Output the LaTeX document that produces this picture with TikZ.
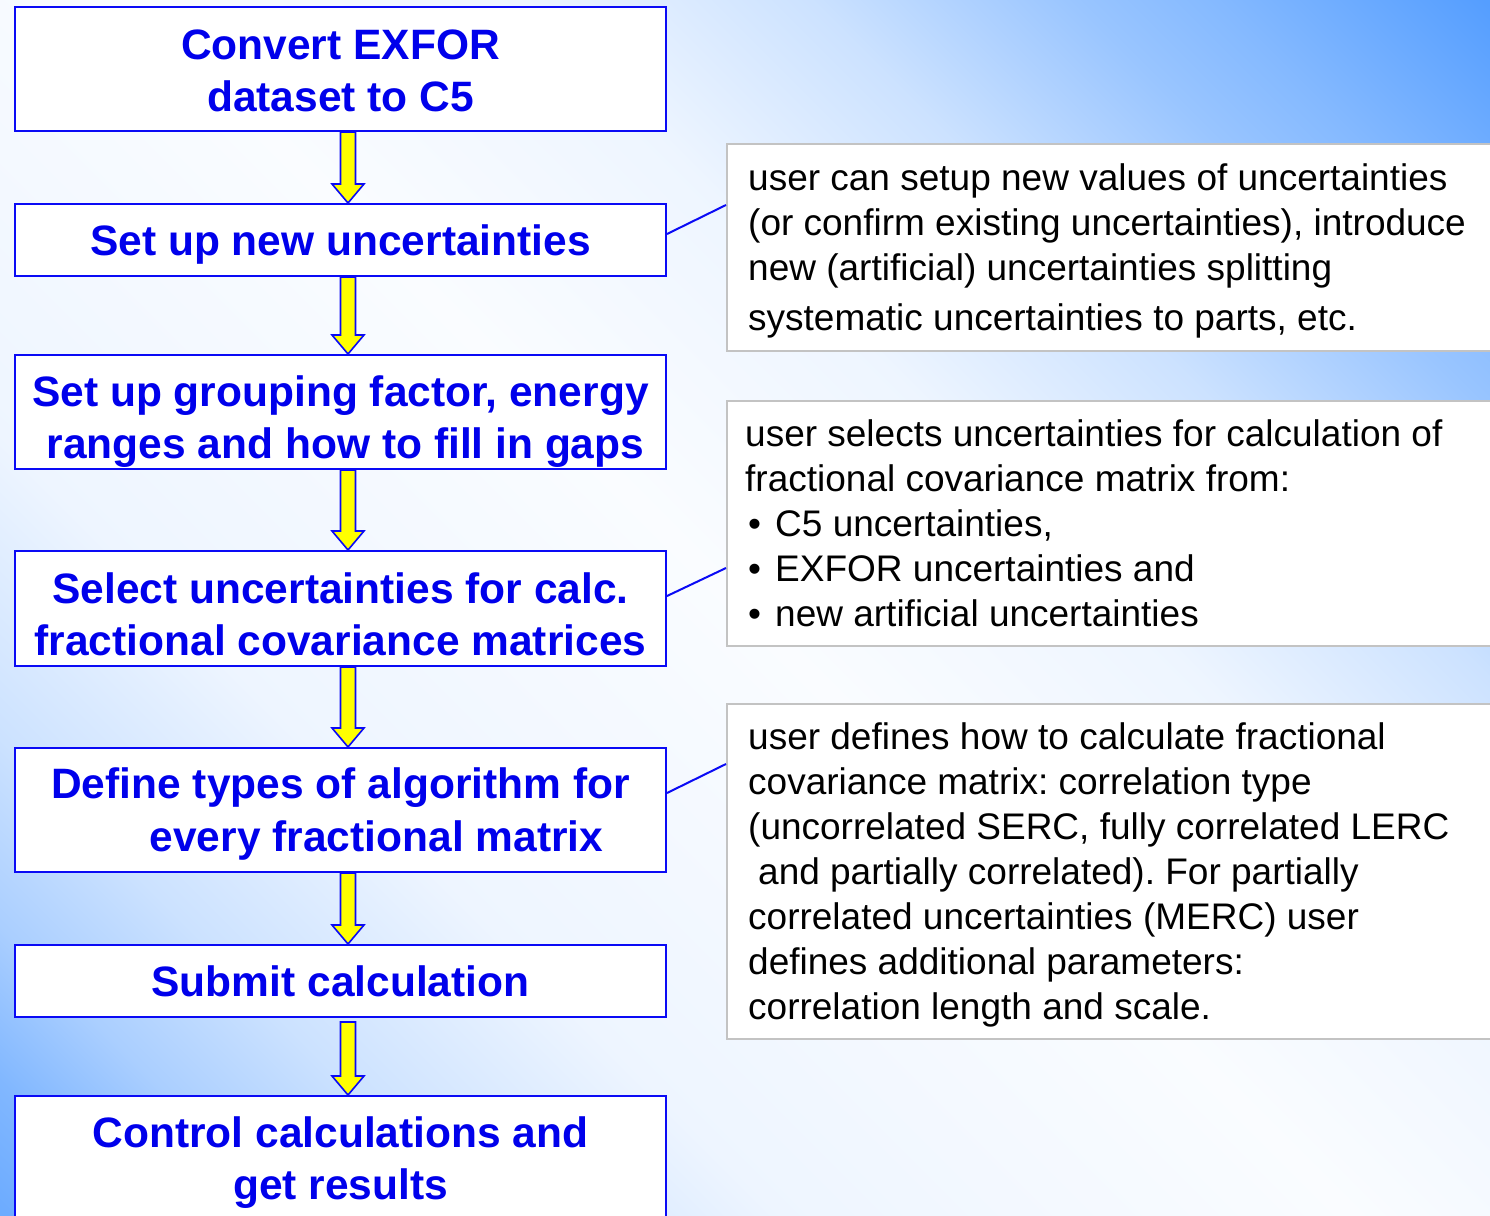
\documentclass[tikz,border=0pt]{standalone}
\usepackage{fontspec}
\setmainfont{Liberation Sans}
\usetikzlibrary{calc}
\frenchspacing
\definecolor{tblue}{RGB}{0,0,235}
\definecolor{lineblue}{RGB}{10,10,245}
\definecolor{bgblue}{RGB}{85,158,255}
\definecolor{boxgray}{RGB}{195,195,195}
\definecolor{ayellow}{RGB}{255,255,0}
\pgfdeclareverticalshading{bgshade}{100bp}{%
  color(0bp)=(bgblue!90!white);
  color(14.6bp)=(bgblue!86!white);
  color(18bp)=(bgblue!74!white);
  color(22bp)=(bgblue!50!white);
  color(27bp)=(bgblue!30!white);
  color(35bp)=(bgblue!10!white);
  color(50bp)=(bgblue!3!white);
  color(60bp)=(bgblue!10!white);
  color(67.7bp)=(bgblue!30!white);
  color(71.2bp)=(bgblue!45!white);
  color(74.7bp)=(bgblue!60!white);
  color(78.3bp)=(bgblue!72!white);
  color(85.4bp)=(bgblue);
  color(100bp)=(bgblue)}
\tikzset{
  lbox/.style={draw=lineblue, line width=2pt, fill=white, minimum width=651pt,
    inner sep=0pt},
  ltext/.style={inner sep=0pt, align=center, text=tblue,
    font=\fontsize{42.5}{52}\selectfont\bfseries},
  rbox/.style={draw=boxgray, line width=2pt, fill=white, minimum width=790pt,
    inner sep=0pt, anchor=north west},
  rtext/.style={anchor=north west, inner sep=0pt, align=left,
    font=\fontsize{37}{45}\selectfont, text=black},
  link/.style={draw=lineblue, line width=2pt},
  flowarrow/.style={draw=lineblue, line width=1.6pt, fill=ayellow, line join=miter}
}
\newcommand\flowarr[3]{%
  \path[flowarrow] let \p1=(#1.south), \p2=(#2.north), \n1={\x1+7.5pt} in
    (\n1-7.5pt,\y1-#3) -- (\n1-7.5pt,\y2+19pt) -- (\n1-16pt,\y2+19pt) --
    (\n1,\y2) -- (\n1+16pt,\y2+19pt) -- (\n1+7.5pt,\y2+19pt) --
    (\n1+7.5pt,\y1-#3) -- cycle;}
\begin{document}
\begin{tikzpicture}[x=1pt,y=-1pt]
\useasboundingbox (0,0) rectangle (1490,1215);
\begin{scope}
\clip (0,0) rectangle (1490,1215);
\shade[shading=bgshade, shading angle=-45] (0,0) rectangle (1490,1215);

% left flow boxes
\node[lbox, minimum height=124pt] (b1) at (340.5,69) {};
\node[lbox, minimum height=72pt] (b2) at (340.5,240) {};
\node[lbox, minimum height=114pt] (b3) at (340.5,412) {};
\node[lbox, minimum height=115pt] (b4) at (340.5,608.5) {};
\node[lbox, minimum height=124pt] (b5) at (340.5,810) {};
\node[lbox, minimum height=72pt] (b6) at (340.5,981) {};
\node[lbox, minimum height=124pt] (b7) at (340.5,1158) {};

\node[ltext] (b1t) at ($(b1)+(0,2)$) {Convert EXFOR\\dataset to C5};
\node[ltext] (b2t) at ($(b2)+(0,5)$) {Set up new uncertainties};
\node[ltext] (b3t) at ($(b3)+(0,9.5)$) {Set up grouping factor, energy\\\hspace*{10pt}ranges and how to fill in gaps};
\node[ltext] (b4t) at ($(b4)+(0,5.5)$) {Select uncertainties for calc.\\fractional covariance matrices};
\node[ltext] (b5t) at ($(b5)+(0,4)$) {Define types of algorithm for\\\hspace*{72pt}every fractional matrix};
\node[ltext] (b6t) at ($(b6)+(0,0)$) {Submit calculation};
\node[ltext] (b7t) at ($(b7)+(0,4.5)$) {Control calculations and\\get results};

% arrows
\flowarr{b1}{b2}{0pt}
\flowarr{b2}{b3}{0pt}
\flowarr{b3}{b4}{0pt}
\flowarr{b4}{b5}{0pt}
\flowarr{b5}{b6}{0pt}
\flowarr{b6}{b7}{4pt}

% right comment boxes
\node[rbox, minimum height=207pt] (rA) at (726,143) {};
\node[rbox, minimum height=245pt] (rB) at (726,400) {};
\node[rbox, minimum height=335pt] (rC) at (726,703) {};

\node[rtext] (tA) at (748,163) {user can setup new values of uncertainties\\
(or confirm existing uncertainties), introduce\\
new (artificial) uncertainties splitting\\[5pt]
systematic uncertainties to parts, etc.};
\node[rtext] (tB) at (745,419) {user selects uncertainties for calculation of\\
fractional covariance matrix from:\\
\makebox[30pt][l]{\hspace*{3pt}•}C5 uncertainties,\\
\makebox[30pt][l]{\hspace*{3pt}•}EXFOR uncertainties and\\
\makebox[30pt][l]{\hspace*{3pt}•}new artificial uncertainties};
\node[rtext] (tC) at (748,722) {user defines how to calculate fractional\\
covariance matrix: correlation type\\
(uncorrelated SERC, fully correlated LERC\\
\hspace*{10pt}and partially correlated). For partially\\
correlated uncertainties (MERC) user\\
defines additional parameters:\\
correlation length and scale.};

% connectors
\draw[link] ($(b2.east)+(0,-6)$) -- ($(rA.west)+(0,-42.5)$);
\draw[link] ($(b4.east)+(0,-12.5)$) -- ($(rB.west)+(0,44.5)$);
\draw[link] ($(b5.east)+(0,-17)$) -- ($(rC.west)+(0,-107.5)$);
\end{scope}
\end{tikzpicture}
\end{document}
